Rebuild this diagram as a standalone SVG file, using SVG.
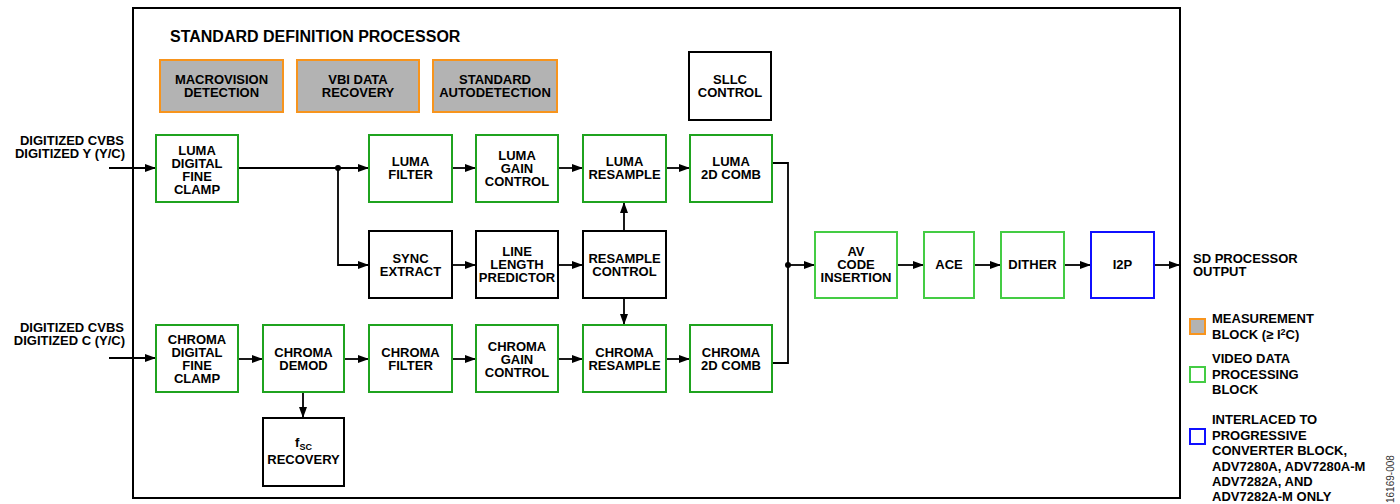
<svg xmlns="http://www.w3.org/2000/svg" width="1400" height="504" viewBox="0 0 1400 504">
<style>
text{font-family:"Liberation Sans",Arial,sans-serif;font-weight:bold;font-size:13px;fill:#000}
.c{text-anchor:middle}
.e{text-anchor:end}
.bx{fill:#fff;stroke:#000;stroke-width:2}
.gd{fill:#fff;stroke:#1fa31f;stroke-width:2}
.gl{fill:#fff;stroke:#44cc44;stroke-width:2}
.bl{fill:#fff;stroke:#1010ff;stroke-width:2}
.or{fill:#b3b3b3;stroke:#f7941d;stroke-width:2}
.ln{fill:none;stroke:#000;stroke-width:1.8}
.ar{fill:none;stroke:#000;stroke-width:1.8;marker-end:url(#ah)}
</style>
<defs>
<marker id="ah" markerUnits="userSpaceOnUse" markerWidth="11" markerHeight="8" refX="10" refY="4" orient="auto">
<path d="M0,0 L11,4 L0,8 z" fill="#000"/>
</marker>
</defs>
<rect id="frame" x="133" y="8" width="1047" height="490" fill="#fff" stroke="#000" stroke-width="2"/>
<text x="170" y="42" style="font-size:16px">STANDARD DEFINITION PROCESSOR</text>

<g id="connectors">
<path class="ar" d="M109,168 H155"/>
<path class="ar" d="M109,358 H155"/>
<path class="ar" d="M238,168 H368"/>
<path class="ar" d="M338,168 V265 H368"/>
<path class="ar" d="M452,168 H475"/>
<path class="ar" d="M558,168 H582"/>
<path class="ar" d="M666,168 H689"/>
<path class="ar" d="M452,265 H475"/>
<path class="ar" d="M558,265 H582"/>
<path class="ar" d="M624,231 V203"/>
<path class="ar" d="M624,298 V324"/>
<path class="ar" d="M238,359 H262"/>
<path class="ar" d="M344,359 H368"/>
<path class="ar" d="M452,359 H475"/>
<path class="ar" d="M558,359 H582"/>
<path class="ar" d="M666,359 H689"/>
<path class="ar" d="M303,392 V417"/>
<path class="ln" d="M772,163 H788 V363 H772"/>
<path class="ar" d="M788,265 H814"/>
<path class="ar" d="M897,265 H923"/>
<path class="ar" d="M974,265 H1000"/>
<path class="ar" d="M1064,265 H1090"/>
<path class="ar" d="M1154,265 H1179"/>
<circle cx="338" cy="168" r="3"/>
<circle cx="788" cy="265" r="3"/>
</g>

<g id="in-luma"><text class="e" x="124" y="145">DIGITIZED CVBS</text><text class="e" x="125" y="158">DIGITIZED Y (Y/C)</text></g>
<g id="in-chroma"><text class="e" x="124" y="332">DIGITIZED CVBS</text><text class="e" x="125" y="345">DIGITIZED C (Y/C)</text></g>

<g id="macrovision"><rect class="or" x="160" y="60" width="123" height="52"/><text class="c" x="221.5" y="84">MACROVISION</text><text class="c" x="221.5" y="97">DETECTION</text></g>
<g id="vbi"><rect class="or" x="297" y="60" width="122" height="52"/><text class="c" x="358" y="84">VBI DATA</text><text class="c" x="358" y="97">RECOVERY</text></g>
<g id="stdauto"><rect class="or" x="433" y="60" width="124" height="52"/><text class="c" x="495" y="84">STANDARD</text><text class="c" x="495" y="97">AUTODETECTION</text></g>
<g id="sllc"><rect class="bx" x="689" y="52" width="82" height="68"/><text class="c" x="730" y="84">SLLC</text><text class="c" x="730" y="97">CONTROL</text></g>

<g id="luma-clamp"><rect class="gd" x="156" y="135" width="82" height="67"/><text class="c" x="197" y="155">LUMA</text><text class="c" x="197" y="168">DIGITAL</text><text class="c" x="197" y="181">FINE</text><text class="c" x="197" y="194">CLAMP</text></g>
<g id="luma-filter"><rect class="gd" x="369" y="135" width="83" height="67"/><text class="c" x="410.5" y="166">LUMA</text><text class="c" x="410.5" y="179">FILTER</text></g>
<g id="luma-gain"><rect class="gd" x="476" y="135" width="82" height="67"/><text class="c" x="517" y="160">LUMA</text><text class="c" x="517" y="173">GAIN</text><text class="c" x="517" y="186">CONTROL</text></g>
<g id="luma-resample"><rect class="gd" x="583" y="135" width="83" height="67"/><text class="c" x="624.5" y="166">LUMA</text><text class="c" x="624.5" y="179">RESAMPLE</text></g>
<g id="luma-comb"><rect class="gd" x="690" y="135" width="82" height="67"/><text class="c" x="731" y="166">LUMA</text><text class="c" x="731" y="179">2D COMB</text></g>

<g id="sync-extract"><rect class="bx" x="369" y="231" width="83" height="67"/><text class="c" x="410.5" y="263">SYNC</text><text class="c" x="410.5" y="276">EXTRACT</text></g>
<g id="line-length"><rect class="bx" x="476" y="231" width="82" height="67"/><text class="c" x="517" y="256">LINE</text><text class="c" x="517" y="269">LENGTH</text><text class="c" x="517" y="282">PREDICTOR</text></g>
<g id="resample-control"><rect class="bx" x="583" y="231" width="83" height="67"/><text class="c" x="624.5" y="263">RESAMPLE</text><text class="c" x="624.5" y="276">CONTROL</text></g>

<g id="chroma-clamp"><rect class="gd" x="156" y="325" width="82" height="67"/><text class="c" x="197" y="344">CHROMA</text><text class="c" x="197" y="357">DIGITAL</text><text class="c" x="197" y="370">FINE</text><text class="c" x="197" y="383">CLAMP</text></g>
<g id="chroma-demod"><rect class="gd" x="263" y="325" width="81" height="67"/><text class="c" x="303.5" y="357">CHROMA</text><text class="c" x="303.5" y="370">DEMOD</text></g>
<g id="chroma-filter"><rect class="gd" x="369" y="325" width="83" height="67"/><text class="c" x="410.5" y="357">CHROMA</text><text class="c" x="410.5" y="370">FILTER</text></g>
<g id="chroma-gain"><rect class="gd" x="476" y="325" width="82" height="67"/><text class="c" x="517" y="351">CHROMA</text><text class="c" x="517" y="364">GAIN</text><text class="c" x="517" y="377">CONTROL</text></g>
<g id="chroma-resample"><rect class="gd" x="583" y="325" width="83" height="67"/><text class="c" x="624.5" y="357">CHROMA</text><text class="c" x="624.5" y="370">RESAMPLE</text></g>
<g id="chroma-comb"><rect class="gd" x="690" y="325" width="82" height="67"/><text class="c" x="731" y="357">CHROMA</text><text class="c" x="731" y="370">2D COMB</text></g>

<g id="fsc"><rect class="bx" x="263" y="418" width="81" height="68"/><text class="c" x="303.5" y="447">f<tspan style="font-size:9px" dy="3">SC</tspan></text><text class="c" x="303.5" y="464">RECOVERY</text></g>

<g id="av-code"><rect class="gl" x="815" y="232" width="82" height="66"/><text class="c" x="856" y="256">AV</text><text class="c" x="856" y="269">CODE</text><text class="c" x="856" y="282">INSERTION</text></g>
<g id="ace"><rect class="gl" x="924" y="232" width="50" height="66"/><text class="c" x="949" y="269">ACE</text></g>
<g id="dither"><rect class="gl" x="1001" y="232" width="63" height="66"/><text class="c" x="1032.5" y="269">DITHER</text></g>
<g id="i2p"><rect class="bl" x="1091" y="232" width="63" height="66"/><text class="c" x="1122.5" y="269">I2P</text></g>

<g id="output"><text x="1193" y="263">SD PROCESSOR</text><text x="1193" y="276">OUTPUT</text></g>

<g id="legend">
<rect class="or" x="1190" y="319" width="15" height="15"/>
<text x="1212" y="323">MEASUREMENT</text>
<text x="1212" y="339">BLOCK (≥ I<tspan style="font-size:9px" dy="-4">2</tspan><tspan dy="4">C)</tspan></text>
<rect class="gl" x="1190" y="367" width="15" height="15"/>
<text x="1212" y="363">VIDEO DATA</text>
<text x="1212" y="379">PROCESSING</text>
<text x="1212" y="394">BLOCK</text>
<rect class="bl" x="1190" y="429" width="15" height="15"/>
<text x="1212" y="424">INTERLACED TO</text>
<text x="1212" y="439.5">PROGRESSIVE</text>
<text x="1212" y="455">CONVERTER BLOCK,</text>
<text x="1212" y="470.5">ADV7280A, ADV7280A-M</text>
<text x="1212" y="486">ADV7282A, AND</text>
<text x="1212" y="501">ADV7282A-M ONLY</text>
</g>
<text transform="translate(1394,503) rotate(-90)" style="font-size:10px;font-weight:normal;fill:#333">16169-008</text>
</svg>
